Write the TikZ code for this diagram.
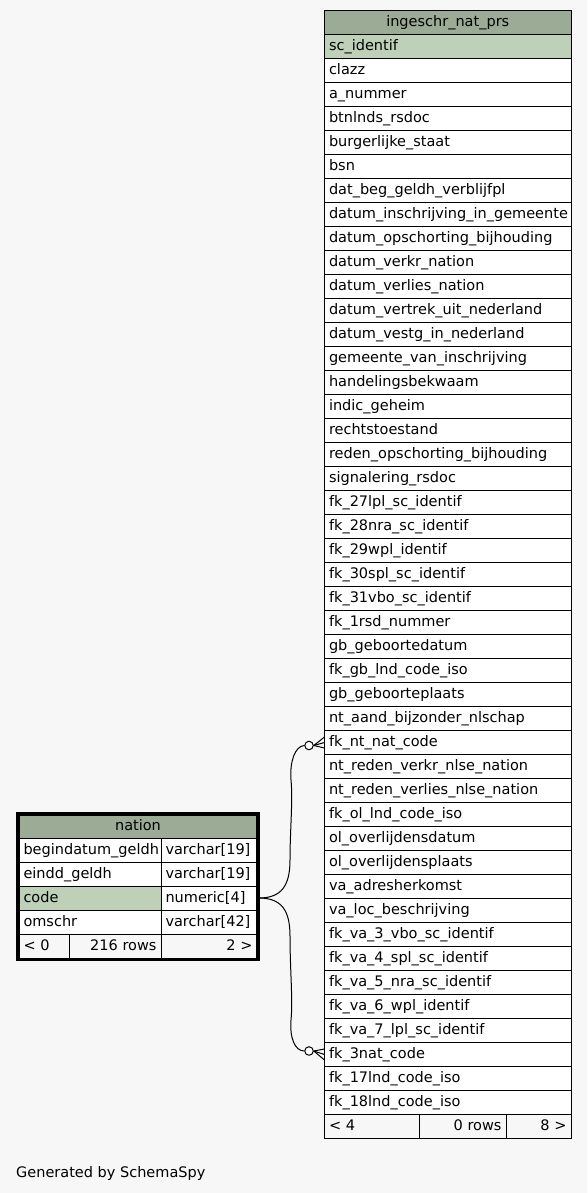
\documentclass[tikz,border=0pt]{standalone}
\usepackage{fontspec}
\setmainfont{DejaVu Sans}
\definecolor{hdr}{HTML}{9BAB96}
\definecolor{keyc}{HTML}{BED1B8}
\definecolor{bgc}{HTML}{F7F7F7}
\newcommand{\fsz}{\fontsize{14.5}{17}\selectfont}
\begin{document}
\begin{tikzpicture}[x=1pt,y=-1pt,
  cellbox/.style={draw, line width=1pt, rectangle, anchor=north west, inner xsep=4.5pt, inner ysep=0pt,
    text height=11pt, text depth=3pt, minimum height=24pt, outer sep=0pt, fill=white, font=\fsz},
  lcell/.style={cellbox, text width=#1-9pt, align=left, minimum width=#1},
  rcell/.style={cellbox, text width=#1-9pt, align=right, minimum width=#1},
  ccell/.style={cellbox, text width=#1-9pt, align=center, minimum width=#1},
  conn/.style={line width=1pt},
  odot/.style={circle, draw, line width=1pt, fill=white, minimum size=8.5pt, inner sep=0pt}]
\useasboundingbox[fill=bgc] (0,0) rectangle (587,1193);
% ---- big table ----
\node[ccell=246.5, fill=hdr] (bh) at (324.5,10.5) {ingeschr\_nat\_prs};
\node[lcell=246.5, fill=keyc] (r1) at (324.5,34.5) {sc\_identif};
\foreach \t [count=\i from 2] in {clazz, a\_nummer, btnlnds\_rsdoc, burgerlijke\_staat, bsn,
  dat\_beg\_geldh\_verblijfpl, datum\_inschrijving\_in\_gemeente, datum\_opschorting\_bijhouding,
  datum\_verkr\_nation, datum\_verlies\_nation, datum\_vertrek\_uit\_nederland, datum\_vestg\_in\_nederland,
  gemeente\_van\_inschrijving, handelingsbekwaam, indic\_geheim, rechtstoestand,
  reden\_opschorting\_bijhouding, signalering\_rsdoc, fk\_27lpl\_sc\_identif, fk\_28nra\_sc\_identif,
  fk\_29wpl\_identif, fk\_30spl\_sc\_identif, fk\_31vbo\_sc\_identif, fk\_1rsd\_nummer,
  gb\_geboortedatum, fk\_gb\_lnd\_code\_iso, gb\_geboorteplaats, nt\_aand\_bijzonder\_nlschap,
  fk\_nt\_nat\_code, nt\_reden\_verkr\_nlse\_nation, nt\_reden\_verlies\_nlse\_nation,
  fk\_ol\_lnd\_code\_iso, ol\_overlijdensdatum, ol\_overlijdensplaats, va\_adresherkomst,
  va\_loc\_beschrijving, fk\_va\_3\_vbo\_sc\_identif, fk\_va\_4\_spl\_sc\_identif,
  fk\_va\_5\_nra\_sc\_identif, fk\_va\_6\_wpl\_identif, fk\_va\_7\_lpl\_sc\_identif,
  fk\_3nat\_code, fk\_17lnd\_code\_iso, fk\_18lnd\_code\_iso}
  {\node[lcell=246.5] (r\i) at (324.5,{34.5+24*(\i-1)}) {\t};}
\node[lcell=94.5, fill=bgc] (bf1) at (324.5,1114.5) {< 4};
\node[rcell=87, fill=bgc] (bf2) at (419,1114.5) {0 rows};
\node[rcell=65, fill=bgc] (bf3) at (506,1114.5) {8 >};
% ---- nation table ----
\node[ccell=238, fill=hdr] (nh) at (19,814) {nation};
\node[lcell=142] (n1a) at (19,838) {begindatum\_geldh};
\node[lcell=96] (n1b) at (161,838) {varchar[19]};
\node[lcell=142] (n2a) at (19,862) {eindd\_geldh};
\node[lcell=96] (n2b) at (161,862) {varchar[19]};
\node[lcell=142, fill=keyc] (n3a) at (19,886) {code};
\node[lcell=96] (n3b) at (161,886) {numeric[4]};
\node[lcell=142] (n4a) at (19,910) {omschr};
\node[lcell=96] (n4b) at (161,910) {varchar[42]};
\node[lcell=50, fill=bgc] (nf1) at (19,934) {< 0};
\node[rcell=92, fill=bgc] (nf2) at (69,934) {216 rows};
\node[rcell=96, fill=bgc] (nf3) at (161,934) {2 >};
\draw[line width=3.5pt] (17.75,813.75) rectangle (257.75,959.25);
% ---- connectors ----
\node[odot] (o1) at (309,745.5) {};
\node[odot] (o2) at (309,1051) {};
\coordinate (cs) at ([xshift=2pt]n3b.east);
\draw[conn] (cs) .. controls (282,898) and (290,885) .. (290,860)
  .. controls (290,830) and (293,800) .. (291,780)
  .. controls (289.5,762) and (295,746) .. (o1.west);
\draw[conn] (cs) .. controls (282,898) and (290,911) .. (290,936)
  .. controls (290,970) and (293,1000) .. (291,1020)
  .. controls (289.5,1038) and (295,1051) .. (o2.west);
\draw[conn] (o1.east) -- ([yshift=5.5pt]r30.west);
\draw[conn] (o1.east) -- ([yshift=-5.5pt]r30.west);
\draw[conn] (o1.east) -- ([yshift=0pt]r30.west);
\draw[conn] (o2.east) -- ([yshift=5.5pt]r43.west);
\draw[conn] (o2.east) -- ([yshift=-5.5pt]r43.west);
\draw[conn] (o2.east) -- ([yshift=0pt]r43.west);
% ---- caption ----
\node[font=\fsz, anchor=base west, inner sep=0pt] (gen) at (16,1177) {Generated by SchemaSpy};
\end{tikzpicture}
\end{document}
